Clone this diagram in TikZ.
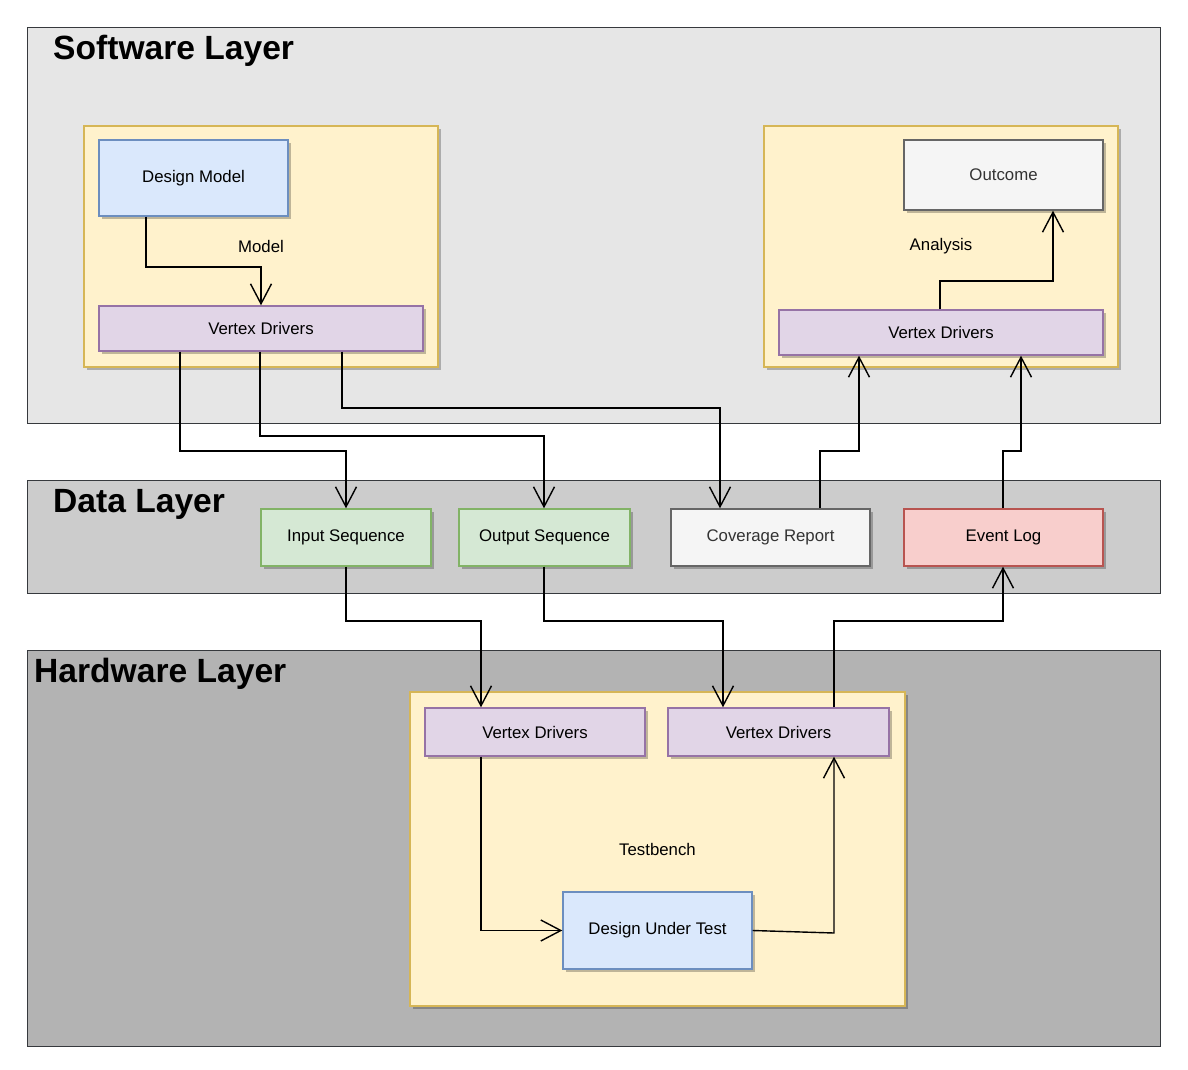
\documentclass[tikz,border=0pt]{standalone}
\usepackage{fontspec}
\setmainfont{Liberation Sans}
\usetikzlibrary{arrows.meta,shadows}

\definecolor{swfill}{HTML}{E6E6E6}
\definecolor{datafill}{HTML}{CCCCCC}
\definecolor{hwfill}{HTML}{B3B3B3}
\definecolor{layerline}{HTML}{36393D}
\definecolor{grpfill}{HTML}{FFF2CC}
\definecolor{grpline}{HTML}{D6B656}
\definecolor{bluefill}{HTML}{DAE8FC}
\definecolor{blueline}{HTML}{6C8EBF}
\definecolor{purpfill}{HTML}{E1D5E7}
\definecolor{purpline}{HTML}{9673A6}
\definecolor{greenfill}{HTML}{D5E8D4}
\definecolor{greenline}{HTML}{82B366}
\definecolor{greyfill}{HTML}{F5F5F5}
\definecolor{greyline}{HTML}{666666}
\definecolor{greytext}{HTML}{333333}
\definecolor{redfill}{HTML}{F8CECC}
\definecolor{redline}{HTML}{B85450}

\tikzset{
  layer/.style={draw=layerline, line width=1.4pt, anchor=north west, inner sep=0pt},
  laytitle/.style={anchor=base west, inner sep=0pt, font=\fontsize{33.6}{40}\selectfont\bfseries},
  box/.style={draw, line width=1.4pt, inner sep=0pt, font=\fontsize{16.8}{20}\selectfont,
    drop shadow={shadow xshift=3pt, shadow yshift=-3pt, fill=black, opacity=0.25}},
  group/.style={box, fill=grpfill, draw=grpline},
  bluebox/.style={box, fill=bluefill, draw=blueline},
  vdbox/.style={box, fill=purpfill, draw=purpline},
  seqbox/.style={box, fill=greenfill, draw=greenline},
  greybox/.style={box, fill=greyfill, draw=greyline, text=greytext},
  redbox/.style={box, fill=redfill, draw=redline},
  flow/.style={line width=1.4pt, -{Straight Barb[length=20pt,width=21pt]}},
}

\begin{document}
\begin{tikzpicture}[x=1pt,y=-1pt]
  \useasboundingbox (0,0) rectangle (1188,1070);

  % layers
  \node[layer, fill=swfill, minimum width=1133, minimum height=396] (sw) at (27,27) {};
  \node[layer, fill=datafill, minimum width=1133, minimum height=113] (data) at (27,480) {};
  \node[layer, fill=hwfill, minimum width=1133, minimum height=396] (hw) at (27,650) {};
  \node[laytitle] (swtitle) at (53,60) {Software Layer};
  \node[laytitle] (datatitle) at (53,512) {Data Layer};
  \node[laytitle] (hwtitle) at (34,682) {Hardware Layer};

  % software layer
  \node[group, minimum width=354, minimum height=241] (modelgrp) at (261,246.5) {Model};
  \node[bluebox, minimum width=189, minimum height=76] (dm) at (193.5,178) {Design Model};
  \node[vdbox, minimum width=324, minimum height=45] (vdl) at (261,328.5) {Vertex Drivers};

  \node[group, minimum width=354, minimum height=241] (anagrp) at (941,246.5) {Analysis};
  \node[greybox, minimum width=199, minimum height=70] (outc) at (1003.5,175) {Outcome};
  \node[vdbox, minimum width=324, minimum height=45] (vdr) at (941,332.5) {Vertex Drivers};

  % data layer
  \node[seqbox, minimum width=170, minimum height=57] (ins) at (346,537.5) {Input Sequence};
  \node[seqbox, minimum width=171, minimum height=57] (outs) at (544.5,537.5) {Output Sequence};
  \node[greybox, minimum width=199, minimum height=57] (cov) at (770.5,537.5) {Coverage Report};
  \node[redbox, minimum width=199, minimum height=57] (evt) at (1003.5,537.5) {Event Log};

  % hardware layer
  \node[group, minimum width=495, minimum height=314] (tbgrp) at (657.5,849) {Testbench};
  \node[vdbox, minimum width=220, minimum height=48] (hvdl) at (535,732) {Vertex Drivers};
  \node[vdbox, minimum width=221, minimum height=48] (hvdr) at (778.5,732) {Vertex Drivers};
  \node[bluebox, minimum width=189, minimum height=77] (dut) at (657.5,930.5) {Design Under Test};

  % connectors
  \draw[flow] (146,0 |- dm.south) -- (146,267) -| (vdl.north);
  \draw[flow] (180,0 |- vdl.south) |- (346,451) -- (ins.north);
  \draw[flow] (260,0 |- vdl.south) |- (544,436) -- (544,0 |- outs.north);
  \draw[flow] (342,0 |- vdl.south) |- (720,408) -- (720,0 |- cov.north);
  \draw[flow] (820,0 |- cov.north) |- (859,451) -- (859,0 |- vdr.south);
  \draw[flow] (1003,0 |- evt.north) |- (1021,451) -- (1021,0 |- vdr.south);
  \draw[flow] (940,0 |- vdr.north) |- (1053,281) -- (1053,0 |- outc.south);
  \draw[flow] (ins.south) |- (481,621) -- (481,0 |- hvdl.north);
  \draw[flow] (544,0 |- outs.south) |- (723,621) -- (723,0 |- hvdr.north);
  \draw[flow] (834,0 |- hvdr.north) |- (1003,621) -- (1003,0 |- evt.south);
  \draw[flow] (481,0 |- hvdl.south) |- (dut.west);
  \draw[flow] (dut.east) -- (834,933) -- (834,0 |- hvdr.south);
\end{tikzpicture}
\end{document}
